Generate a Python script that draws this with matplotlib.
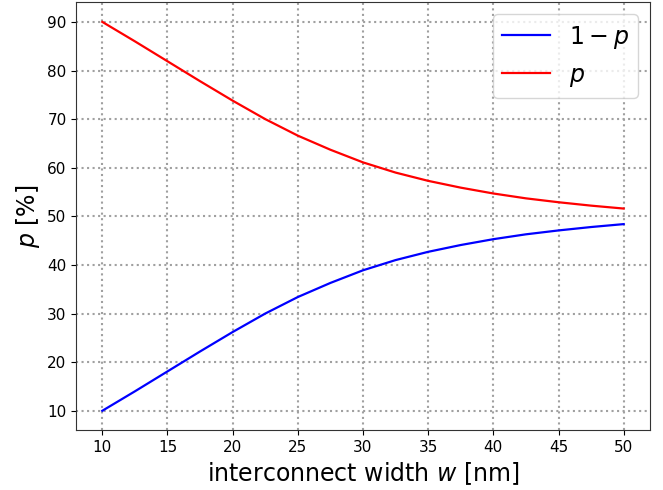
import numpy as np
import matplotlib
matplotlib.use("Agg")
import matplotlib.pyplot as plt

# interconnect width [nm]
width_nm = [10, 12.5, 15, 17.5, 20, 22.5, 25, 27.5, 30, 32.5, 35, 37.5, 40, 42.5, 45, 47.5, 50]
# probability p [%]
p_pct = [90.0, 86.0, 81.9, 77.8, 73.8, 70.0, 66.6, 63.7, 61.1, 59.0, 57.3, 55.9, 54.7, 53.7, 52.9, 52.2, 51.6]
# complement 1 - p [%]
q_pct = [10.0, 14.0, 18.1, 22.2, 26.2, 30.0, 33.4, 36.3, 38.9, 41.0, 42.7, 44.1, 45.3, 46.3, 47.1, 47.8, 48.4]

fig, ax = plt.subplots(figsize=(6.63, 4.9), dpi=100)
ax.plot(width_nm, q_pct, color='blue', lw=1.6, label=r'$1-p$')
ax.plot(width_nm, p_pct, color='red', lw=1.6, label=r'$p$')

ax.set_xlabel(r'interconnect width $w$ [nm]', fontsize=17)
ax.set_ylabel(r'$p$ [%]', fontsize=17)
ax.tick_params(labelsize=11)
ax.grid(True, linestyle=':', color='#a0a0a0', lw=1.5)
for s in ax.spines.values():
    s.set_color('#333333')
ax.legend(loc='upper right', fontsize=17)

fig.subplots_adjust(left=0.115, right=0.98, top=0.995, bottom=0.122)
fig.savefig('out.png', dpi=100)
